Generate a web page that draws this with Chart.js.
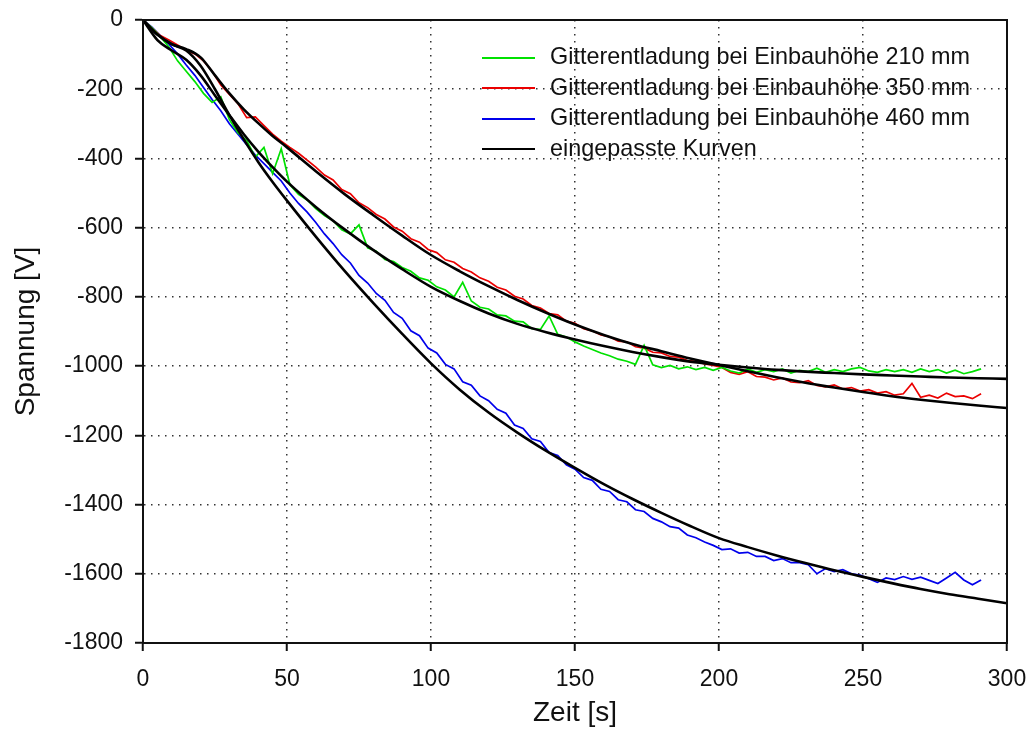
<!DOCTYPE html>
<html>
<head>
<meta charset="utf-8">
<script src="https://cdn.jsdelivr.net/npm/chart.js@4.4.0/dist/chart.umd.min.js"></script>
<style>
    html, body { margin: 0; padding: 0; background: #fff; }
    #wrap { position: relative; width: 1030px; height: 747px; }
    #legend { position: absolute; left: 482px; top: 41px; font: 23.4px Arial, "Liberation Sans", sans-serif; color: #111; }
    #legend div { height: 30.5px; line-height: 30.5px; white-space: nowrap; }
    #legend .sw { display: inline-block; width: 53px; height: 2px; vertical-align: middle; margin-right: 15px; }
</style>
</head>
<body>
<div id="wrap">
    <canvas id="chart" width="1030" height="747"></canvas>
    <div id="legend"></div>
</div>
<script>
// measured data, time in s
const measTime = [
    0, 3, 6, 9, 12, 15, 18, 21, 24, 27,
    30, 33, 36, 39, 42, 45, 48, 51, 54, 57,
    60, 63, 66, 69, 72, 75, 78, 81, 84, 87,
    90, 93, 96, 99, 102, 105, 108, 111, 114, 117,
    120, 123, 126, 129, 132, 135, 138, 141, 144, 147,
    150, 153, 156, 159, 162, 165, 168, 171, 174, 177,
    180, 183, 186, 189, 192, 195, 198, 201, 204, 207,
    210, 213, 216, 219, 222, 225, 228, 231, 234, 237,
    240, 243, 246, 249, 252, 255, 258, 261, 264, 267,
    270, 273, 276, 279, 282, 285, 288, 291
];
const green210 = [
    0, -22, -48, -78, -118, -148, -178, -212, -238, -222,
    -288, -326, -348, -396, -368, -444, -372, -476, -504, -520,
    -545, -565, -580, -606, -618, -592, -658, -668, -692, -698,
    -715, -726, -745, -752, -771, -780, -800, -758, -812, -830,
    -835, -852, -855, -870, -872, -892, -894, -855, -908, -916,
    -930, -942, -952, -962, -970, -980, -986, -995, -940, -996,
    -1004, -998, -1008, -1002, -1010, -1004, -1012, -1004, -1014, -1020,
    -1008, -1018, -1010, -1016, -1008, -1020, -1012, -1016, -1006, -1018,
    -1010, -1016, -1008, -1004, -1014, -1018, -1010, -1016, -1010, -1018,
    -1008, -1016, -1010, -1020, -1012, -1022, -1016, -1008
];
const red350 = [
    0, -22, -45, -58, -72, -88, -98, -118, -148, -188,
    -215, -242, -282, -280, -305, -330, -350, -368, -385, -405,
    -425, -448, -462, -490, -502, -528, -542, -562, -575, -598,
    -610, -632, -642, -663, -672, -693, -700, -718, -728, -745,
    -755, -772, -780, -798, -806, -825, -832, -848, -852, -870,
    -876, -892, -898, -910, -915, -928, -930, -944, -948, -960,
    -962, -972, -974, -984, -986, -994, -998, -1004, -1018, -1024,
    -1016, -1030, -1032, -1040, -1034, -1046, -1048, -1042, -1056, -1060,
    -1054, -1066, -1062, -1072, -1068, -1078, -1074, -1084, -1080, -1050,
    -1090, -1084, -1092, -1078, -1088, -1086, -1094, -1080
];
const blue460 = [
    0, -20, -45, -70, -98, -130, -160, -195, -230, -262,
    -300, -330, -360, -390, -415, -440, -465, -500, -530, -555,
    -585, -618, -646, -678, -702, -738, -760, -790, -810, -845,
    -862, -898, -912, -948, -962, -995, -1008, -1045, -1055, -1086,
    -1100, -1125, -1136, -1170, -1180, -1210, -1218, -1250, -1258, -1285,
    -1298, -1322, -1330, -1356, -1362, -1386, -1392, -1415, -1420, -1440,
    -1450, -1464, -1468, -1488, -1496, -1508, -1518, -1530, -1528, -1540,
    -1538, -1550, -1550, -1562, -1556, -1568, -1568, -1574, -1600, -1585,
    -1594, -1588, -1600, -1604, -1614, -1625, -1612, -1617, -1608, -1616,
    -1610, -1619, -1628, -1612, -1596, -1618, -1632, -1618
];

// fitted curves
const fitTime = [0, 5, 10, 15, 20, 25, 30, 35, 40, 45, 50, 60, 70, 80, 90, 100, 110, 120,
    130, 140, 150, 160, 170, 180, 190, 200, 210, 220, 230, 240, 250, 260, 270, 280, 290, 300];
const fit210 = [0, -58, -88, -115, -160, -218, -275, -330, -380, -425, -467, -540, -605, -665, -720, -771, -812, -848,
    -878, -902, -923, -942, -959, -974, -987, -996, -1004, -1011, -1016, -1020, -1024, -1027, -1030, -1033, -1035, -1037];
const fit350 = [0, -42, -70, -84, -108, -160, -212, -258, -298, -335, -368, -437, -503, -564, -623, -679, -726, -769,
    -809, -846, -880, -910, -936, -957, -978, -997, -1015, -1032, -1048, -1062, -1075, -1087, -1097, -1106, -1114, -1121];
const fit460 = [0, -42, -70, -88, -132, -200, -275, -345, -410, -468, -522, -626, -725, -818, -907, -992, -1068, -1134,
    -1192, -1245, -1294, -1341, -1384, -1424, -1462, -1497, -1523, -1547, -1569, -1590, -1609, -1627, -1644, -1659, -1672, -1685];

const labels = [
    "Gitterentladung bei Einbauhöhe 210 mm",
    "Gitterentladung bei Einbauhöhe 350 mm",
    "Gitterentladung bei Einbauhöhe 460 mm",
    "eingepasste Kurven"
];
const colors = ["rgb(0,225,0)", "rgb(235,0,0)", "rgb(0,0,235)", "#000"];

function pts(xs, ys) {
    return xs.map((x, i) => ({ x: x, y: ys[i] }));
}

function measured(label, ys, color) {
    return { label: label, data: pts(measTime, ys), borderColor: color, borderWidth: 1.7, pointRadius: 0, tension: 0, order: 2 };
}

function fitted(ys) {
    return { label: labels[3], data: pts(fitTime, ys), borderColor: "#000", borderWidth: 2.6, pointRadius: 0, cubicInterpolationMode: "monotone", order: 1 };
}

// top and right frame lines
const frame = {
    id: "frame",
    afterDraw(chart) {
        const { ctx, chartArea: a } = chart;
        ctx.save();
        ctx.strokeStyle = "#111";
        ctx.lineWidth = 2;
        ctx.strokeRect(a.left, a.top, a.right - a.left, a.bottom - a.top);
        ctx.restore();
    }
};

Chart.defaults.font.family = 'Arial, "Liberation Sans", sans-serif';
Chart.defaults.color = "#111";

const axisGrid = { color: "#333", lineWidth: 1.5, tickLength: 8, tickColor: "#111", tickWidth: 2, tickBorderDash: [] };
const axisBorder = { color: "#111", width: 2, dash: [1.5, 5.5] };

new Chart(document.getElementById("chart").getContext("2d"), {
    type: "line",
    data: {
        datasets: [
            measured(labels[0], green210, colors[0]),
            measured(labels[1], red350, colors[1]),
            measured(labels[2], blue460, colors[2]),
            fitted(fit210),
            fitted(fit350),
            fitted(fit460)
        ]
    },
    options: {
        responsive: false,
        animation: false,
        layout: { padding: { top: 20, right: 23, left: 0, bottom: 0 } },
        plugins: { legend: { display: false }, tooltip: { enabled: false } },
        scales: {
            x: {
                type: "linear", min: 0, max: 300,
                ticks: { stepSize: 50, font: { size: 23 }, padding: 15, callback: (v) => String(v) },
                grid: axisGrid,
                border: axisBorder,
                title: { display: true, text: "Zeit [s]", font: { size: 28 }, padding: { top: 0, bottom: 17 } },
                afterFit: (s) => { s.height = 104; s.paddingLeft = 0; s.paddingRight = 0; }
            },
            y: {
                type: "linear", min: -1800, max: 0,
                ticks: { stepSize: 200, font: { size: 23 }, padding: 12, callback: (v) => String(v) },
                grid: axisGrid,
                border: axisBorder,
                title: { display: true, text: "Spannung [V]", font: { size: 28 }, padding: { top: 9, bottom: 0 } },
                afterFit: (s) => { s.width = 143; s.paddingTop = 0; s.paddingBottom = 0; }
            }
        }
    },
    plugins: [frame]
});

// legend as html
const legend = document.getElementById("legend");
labels.forEach((t, i) => {
    const row = document.createElement("div");
    const sw = document.createElement("span");
    sw.className = "sw";
    sw.style.background = colors[i];
    row.appendChild(sw);
    row.appendChild(document.createTextNode(t));
    legend.appendChild(row);
});
</script>
</body>
</html>
